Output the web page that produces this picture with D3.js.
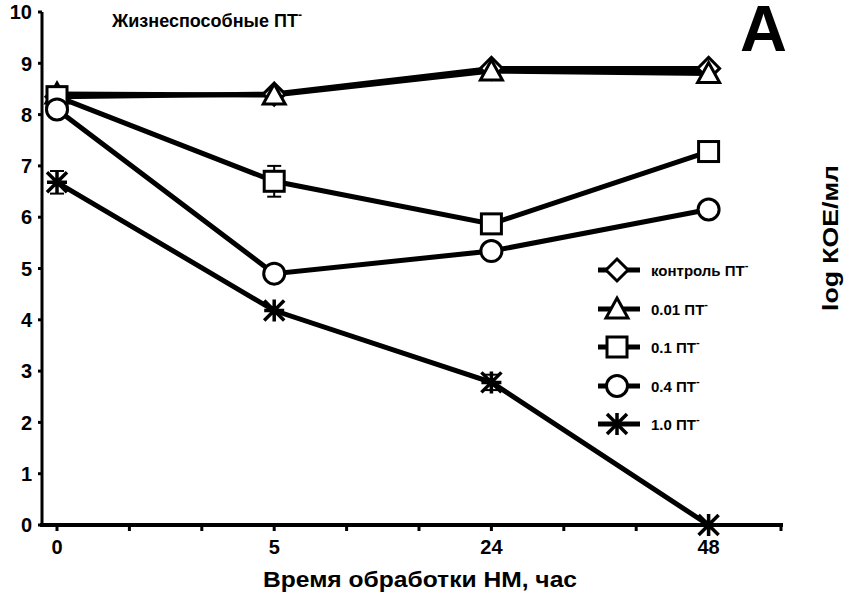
<!DOCTYPE html>
<html><head><meta charset="utf-8">
<script src="https://cdn.jsdelivr.net/npm/d3@7"></script>
<style>body{margin:0;background:#fff}svg{display:block}text{font-family:"Liberation Sans",Arial,sans-serif;font-weight:bold;fill:#000}</style>
</head><body><svg id="c" width="848" height="600"></svg>
<script>
const categories = ["0", "5", "24", "48"];
const seriesNames = ["контроль ПТ", "0.01 ПТ", "0.1 ПТ", "0.4 ПТ", "1.0 ПТ"];
const control  = [8.35, 8.4, 8.9, 8.9];
const pt001    = [8.4, 8.38, 8.85, 8.8];
const pt01     = [8.35, 6.7, 5.87, 7.28];
const pt04     = [8.1, 4.9, 5.34, 6.15];
const pt10     = [6.68, 4.18, 2.78, 0];
const err01    = [0, 0.3, 0, 0];
const err10    = [0.22, 0, 0.15, 0];
const yTicks   = [0,1,2,3,4,5,6,7,8,9,10];
const symbols  = ["diamond", "triangle", "square", "circle", "star"];

const svg = d3.select("#c");
const y = d3.scaleLinear().domain([0,10]).range([525,12]);
const slot = d3.scaleLinear().domain([0,10]).range([57,781]);
const xc = i => slot(i*3);

// axes
svg.append("line").attr("x1",42).attr("x2",42).attr("y1",y(10)).attr("y2",y(0)+2).attr("stroke","#000").attr("stroke-width",3);
svg.append("line").attr("x1",40).attr("x2",783).attr("y1",y(0)).attr("y2",y(0)).attr("stroke","#000").attr("stroke-width",4);
yTicks.forEach(t=>{
  svg.append("line").attr("x1",38).attr("x2",42).attr("y1",y(t)).attr("y2",y(t)).attr("stroke","#000").attr("stroke-width",3);
  svg.append("text").attr("x",32).attr("y",y(t)).attr("dy","0.36em").attr("text-anchor","end").attr("font-size",20).text(t);
});
d3.range(11).forEach(s=>{
  svg.append("line").attr("x1",slot(s)).attr("x2",slot(s)).attr("y1",y(0)).attr("y2",y(0)+6).attr("stroke","#000").attr("stroke-width",3);
});
categories.forEach((c,i)=>{
  svg.append("text").attr("x",xc(i)).attr("y",554).attr("text-anchor","middle").attr("font-size",20).text(c);
});
svg.append("text").attr("x",420).attr("y",587).attr("text-anchor","middle").attr("font-size",22)
  .attr("textLength",314).attr("lengthAdjust","spacingAndGlyphs").text("Время обработки НМ, час");

// title
const tt = svg.append("text").attr("x",112).attr("y",27).attr("font-size",18);
tt.append("tspan").text("Жизнеспособные ПТ");
tt.append("tspan").attr("dy",-8).attr("font-size",12).text("-");
svg.append("text").attr("x",740).attr("y",51).attr("font-size",65).text("A");
svg.append("text").attr("transform","translate(838,238) rotate(-90)").attr("text-anchor","middle").attr("font-size",22)
  .attr("textLength",146).attr("lengthAdjust","spacingAndGlyphs").text("log КОЕ/мл");

const data = [control, pt001, pt01, pt04, pt10];
const errs = [null, null, err01, null, err10];
const line = d3.line().x((d,i)=>xc(i)).y(d=>y(d));

function drawMarker(g, type, cx, cy) {
  const sw = 3;
  if (type==="diamond") g.append("path").attr("d",`M${cx},${cy-11}L${cx+11},${cy}L${cx},${cy+11}L${cx-11},${cy}Z`).attr("fill","#fff").attr("stroke","#000").attr("stroke-width",sw);
  else if (type==="triangle") g.append("path").attr("d",`M${cx},${cy-11}L${cx+11},${cy+9}L${cx-11},${cy+9}Z`).attr("fill","#fff").attr("stroke","#000").attr("stroke-width",sw);
  else if (type==="square") g.append("rect").attr("x",cx-10).attr("y",cy-10).attr("width",20).attr("height",20).attr("fill","#fff").attr("stroke","#000").attr("stroke-width",sw);
  else if (type==="circle") g.append("circle").attr("cx",cx).attr("cy",cy).attr("r",10.5).attr("fill","#fff").attr("stroke","#000").attr("stroke-width",sw);
  else {
    const r = 10;
    g.append("path").attr("d",`M${cx-r},${cy-r}L${cx+r},${cy+r}M${cx+r},${cy-r}L${cx-r},${cy+r}M${cx},${cy-r-1}L${cx},${cy+r+1}M${cx-r},${cy}L${cx+r},${cy}`).attr("stroke","#000").attr("stroke-width",3.5).attr("fill","none");
  }
}

data.forEach((s,k)=>{
  svg.append("path").datum(s).attr("d",line).attr("fill","none").attr("stroke","#000").attr("stroke-width",5);
});
data.forEach((s,k)=>{
  const g = svg.append("g");
  if (errs[k]) errs[k].forEach((e,i)=>{
    if (!e) return;
    const cx = xc(i);
    g.append("line").attr("x1",cx).attr("x2",cx).attr("y1",y(s[i]+e)).attr("y2",y(s[i]-e)).attr("stroke","#000").attr("stroke-width",2);
    [s[i]+e, s[i]-e].forEach(v=>g.append("line").attr("x1",cx-7).attr("x2",cx+7).attr("y1",y(v)).attr("y2",y(v)).attr("stroke","#000").attr("stroke-width",2));
  });
  s.forEach((v,i)=>drawMarker(g, symbols[k], xc(i), y(v)));
});

// legend
const legY = [270, 309, 347, 386, 424];
seriesNames.forEach((n,k)=>{
  const g = svg.append("g");
  g.append("line").attr("x1",598).attr("x2",640).attr("y1",legY[k]).attr("y2",legY[k]).attr("stroke","#000").attr("stroke-width",5);
  drawMarker(g, symbols[k], 617, legY[k]);
  const t = g.append("text").attr("x",651).attr("y",legY[k]).attr("dy","0.38em").attr("font-size",15);
  t.append("tspan").text(n);
  t.append("tspan").attr("dy",-7).attr("font-size",11).text("-");
});
</script></body></html>
